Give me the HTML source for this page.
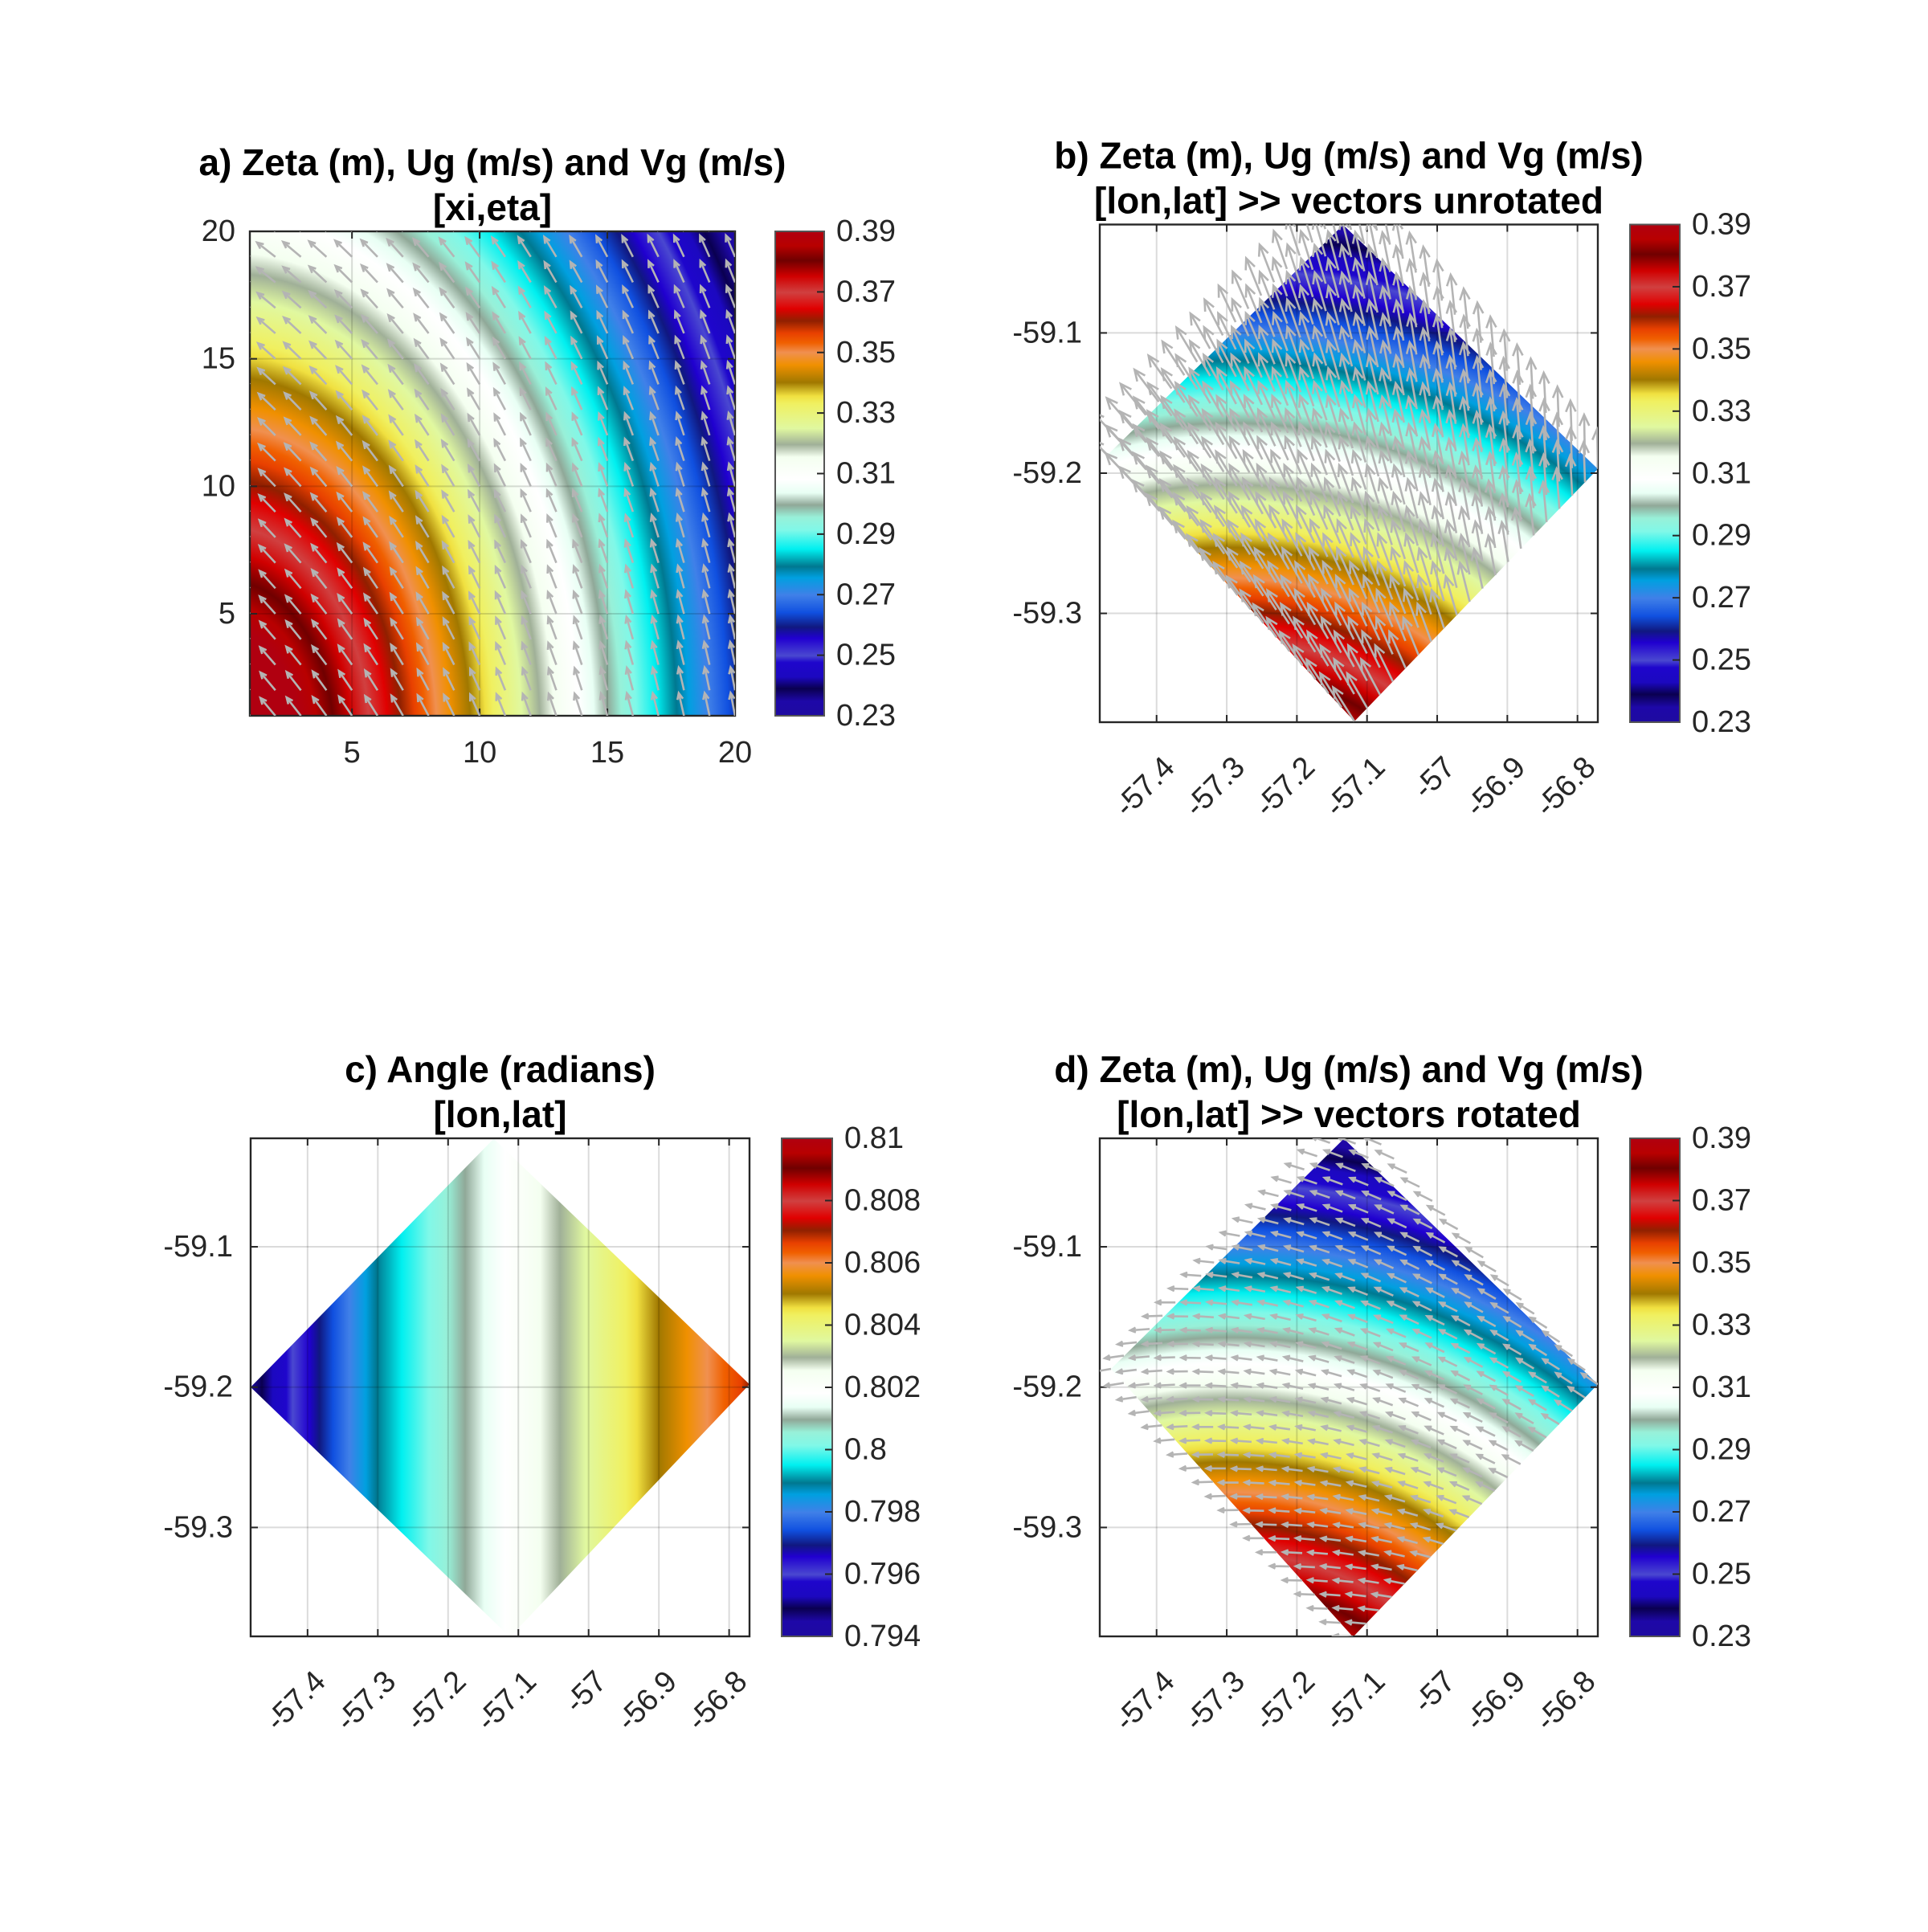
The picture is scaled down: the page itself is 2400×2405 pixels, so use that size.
<!DOCTYPE html>
<html><head><meta charset="utf-8">
<style>
html,body{margin:0;padding:0;background:#fff;}
svg text{font-family:"Liberation Sans",Arial,sans-serif;}
</style></head>
<body>
<svg id="fig" xmlns="http://www.w3.org/2000/svg" width="2400" height="2400" viewBox="0 0 2400 2400">
<rect x="0" y="0" width="2400" height="2400" fill="#fff"/>
<defs id="defs"></defs>
</svg>
<script>
// ---------- data ----------
const cmapPos = [0,0.03,0.056,0.08,0.11,0.124,0.16,0.183,0.213,0.249,0.285,0.308,0.344,0.383,0.41,0.435,0.46,0.488,0.534,0.56,0.593,0.645,0.66,0.688,0.724,0.75,0.77,0.79,0.815,0.84,0.874,0.907,0.94,0.97,1];
const cmapCol = ["#1e0aa0","#1e08a8","#0a0050","#1c08c0","#1e06cc","#4a48d0","#2000d0","#101880","#1050e0","#4080e8","#00a0e0","#007890","#00f0f0","#80f8e8","#98f0d8","#90a898","#e8fff4","#ffffff","#f4fff0","#a0b098","#e0f8a0","#f0f060","#f0e040","#a07800","#f09000","#f09050","#f06000","#e84000","#902000","#e00000","#d04040","#d00000","#700000","#b80000","#b00010"];

const zetaTicks = ["0.39","0.37","0.35","0.33","0.31","0.29","0.27","0.25","0.23"];
const zetaRange = [0.23, 0.39];
const angleTicks = ["0.81","0.808","0.806","0.804","0.802","0.8","0.798","0.796","0.794"];
const angleRange = [0.794, 0.81];

const xiTicks = [5,10,15,20];
const etaTicks = [5,10,15,20];
const xiRange = [1,20];
const lonTicks = [-57.4,-57.3,-57.2,-57.1,-57,-56.9,-56.8];
const lonTickLabels = ["-57.4","-57.3","-57.2","-57.1","-57","-56.9","-56.8"];
const latTicks = [-59.1,-59.2,-59.3];
const latTickLabels = ["-59.1","-59.2","-59.3"];
const lonRange = [-57.481,-56.771];
const latRange = [-59.0227,-59.3776];

// zeta field on xi/eta: elliptical bands (centre, x-compression, value at two radii in xi units)
const zetaCenterA = [0.09, 0.05];
const zetaStretchA = 0.672;
const zetaRadA = [4.35, 36.0];
const zetaValA = [0.39, 0.23];
// zeta on lon/lat (centre lon/lat, radii as fraction of axes width)
const zetaCenterLL = [-57.295, -59.520];
const zetaRadLL = [0.4435, 1.431];
const zetaValLL = [0.39, 0.23];

// diamond outlines (top,right,bottom,left)
const bDiamondLon = [-57.134,-56.771,-57.118,-57.470];
const bDiamondLat = [-59.023,-59.197,-59.377,-59.187];
const cDiamondLon = [-57.135,-56.771,-57.112,-57.481];
const cDiamondLat = [-59.023,-59.198,-59.378,-59.200];
const dDiamondLon = [-57.133,-56.771,-57.120,-57.465];
const dDiamondLat = [-59.023,-59.198,-59.378,-59.187];

// angle field: values at several longitudes
const angleLon = [-57.481,-57.3035,-57.1757,-57.0408,-56.901,-56.831,-56.771];
const angleVal = [0.7945,0.7989,0.80096,0.80296,0.805,0.806,0.8068];

// quiver direction (degrees) by xi column and eta-row adjustment
const arrowAngleCol = [134,132,130,128,126,124,122,120,118,116,114,112,111,110,108,107,106,105,104,103];
const arrowAngleRow = [-2,-2,-1,-1,0,0,1,1,2,2,3,3,4,5,6,7,8,9,10,11];
const gridRotation = 45;

// ---------- layout ----------
const FT=38, FTT=46;
const P = {
  a:{x:311,y:288,w:604,h:603,cb:965,cbw:61},
  b:{x:1369,y:279.5,w:620,h:619.5,cb:2029,cbw:62},
  c:{x:312,y:1417,w:621,h:620,cb:973,cbw:63},
  d:{x:1369,y:1417,w:620,h:620,cb:2029,cbw:62}
};
const NS="http://www.w3.org/2000/svg";
const svg=document.getElementById('fig');
const defs=document.getElementById('defs');
function mk(tag,attrs,parent){const e=document.createElementNS(NS,tag);for(const k in attrs)e.setAttribute(k,attrs[k]);(parent||svg).appendChild(e);return e;}

function stopsForValue(grad, valToOffset, vr){
  const arr=[];
  for(let i=0;i<cmapPos.length;i++){const v=vr[0]+cmapPos[i]*(vr[1]-vr[0]);arr.push([valToOffset(v),cmapCol[i]]);}
  arr.sort((p,q)=>p[0]-q[0]);
  arr.forEach(s=>mk('stop',{offset:Math.max(0,Math.min(1,s[0])),'stop-color':s[1]},grad));
}
function colorbar(p,ticks,name){
  const g=mk('g',{});
  
  
  const id='cb'+name;
  const lg=mk('linearGradient',{id:id,x1:0,y1:1,x2:0,y2:0},defs);
  cmapPos.forEach((f,i)=>mk('stop',{offset:f,'stop-color':cmapCol[i]},lg));
  const r=mk('rect',{x:p.cb,y:p.y,width:p.cbw,height:p.h,fill:'url(#'+id+')',stroke:'#555','stroke-width':2},g);
  
  
  ticks.forEach((t,i)=>{
    const y=p.y+i*p.h/(ticks.length-1);
    if(i>0&&i<ticks.length-1) mk('line',{x1:p.cb+p.cbw-9,x2:p.cb+p.cbw,y1:y,y2:y,stroke:'#262626','stroke-width':2},g);
    const tx=mk('text',{x:p.cb+p.cbw+15,y:y,'font-size':FT,fill:'#262626','dominant-baseline':'central'},g);
    tx.textContent=t;
    
    
  });
}
function title(p,l1,l2,name){
  const cx=p.x+p.w/2;
  const t1=mk('text',{x:cx,y:p.y-70,'font-size':FTT,'font-weight':'bold','text-anchor':'middle',fill:'#000'});
  t1.textContent=l1;
  
  
  const t2=mk('text',{x:cx,y:p.y-14,'font-size':FTT,'font-weight':'bold','text-anchor':'middle',fill:'#000'});
  t2.textContent=l2;
  
  
}
function arrow(g,x,y,ang,L){
  const r=ang*Math.PI/180;const hx=x+L*Math.cos(r),hy=y-L*Math.sin(r);
  const hl=Math.max(7,L*0.3);
  const a1=r+Math.PI-0.42,a2=r+Math.PI+0.42;
  const pth=mk('path',{d:`M${x},${y}L${hx},${hy}M${hx+hl*Math.cos(a1)},${hy-hl*Math.sin(a1)}L${hx},${hy}L${hx+hl*Math.cos(a2)},${hy-hl*Math.sin(a2)}`,stroke:'#b4b4b4','stroke-width':2.6,fill:'none'},g);
  
  
}
function frame(p,name,xt,yt,sx,sy){
  const g=mk('g',{});
  
  
  xt.forEach(v=>{const x=sx(v);
    mk('line',{x1:x,x2:x,y1:p.y,y2:p.y+p.h,stroke:'rgba(0,0,0,0.14)','stroke-width':2},g);
    mk('line',{x1:x,x2:x,y1:p.y,y2:p.y+9,stroke:'#262626','stroke-width':2},g);
    mk('line',{x1:x,x2:x,y1:p.y+p.h,y2:p.y+p.h-9,stroke:'#262626','stroke-width':2},g);});
  yt.forEach(v=>{const y=sy(v);
    mk('line',{x1:p.x,x2:p.x+p.w,y1:y,y2:y,stroke:'rgba(0,0,0,0.14)','stroke-width':2},g);
    mk('line',{x1:p.x,x2:p.x+9,y1:y,y2:y,stroke:'#262626','stroke-width':2},g);
    mk('line',{x1:p.x+p.w,x2:p.x+p.w-9,y1:y,y2:y,stroke:'#262626','stroke-width':2},g);});
  mk('rect',{x:p.x,y:p.y,width:p.w,height:p.h,fill:'none',stroke:'#262626','stroke-width':2.4},g);
  return g;
}
function clip(p,id){const c=mk('clipPath',{id:id},defs);mk('rect',{x:p.x,y:p.y,width:p.w,height:p.h},c);}

// ---------- panel a ----------
(function(){
  const p=P.a;
  const sx=v=>p.x+(v-xiRange[0])/(xiRange[1]-xiRange[0])*p.w;
  const sy=v=>p.y+p.h-(v-xiRange[0])/(xiRange[1]-xiRange[0])*p.h;
  const unit=p.w/(xiRange[1]-xiRange[0]);
  clip(p,'clipA');
  const cx=sx(zetaCenterA[0]),cy=sy(zetaCenterA[1]);
  const r0=zetaRadA[0]*unit,r1=zetaRadA[1]*unit,R=1400;
  const rg=mk('radialGradient',{id:'gA',gradientUnits:'userSpaceOnUse',cx:cx,cy:cy,fx:cx,fy:cy,r:R,
    gradientTransform:`translate(${cx},${cy}) scale(${zetaStretchA},1) translate(${-cx},${-cy})`},defs);
  stopsForValue(rg,v=>(r0+(zetaValA[0]-v)/(zetaValA[0]-zetaValA[1])*(r1-r0))/R,zetaRange);
  const f=mk('rect',{x:p.x,y:p.y,width:p.w,height:p.h,fill:'url(#gA)'});
  
  
  frame(p,'panel-a',xiTicks,etaTicks,sx,sy);
  const g=mk('g',{'clip-path':'url(#clipA)'});
  
  
  for(let i=0;i<20;i++)for(let j=0;j<20;j++) arrow(g,sx(i+1),sy(j+1),arrowAngleCol[i]+arrowAngleRow[j],29);
  xiTicks.forEach(v=>{const t=mk('text',{x:sx(v),y:p.y+p.h+58,'font-size':FT,'text-anchor':'middle',fill:'#262626'});t.textContent=v;
    
    });
  etaTicks.forEach(v=>{const t=mk('text',{x:p.x-18,y:sy(v),'font-size':FT,'text-anchor':'end','dominant-baseline':'central',fill:'#262626'});t.textContent=v;
    
    });
  title(p,'a) Zeta (m), Ug (m/s) and Vg (m/s)','[xi,eta]','panel-a');
  colorbar(p,zetaTicks,'colorbar-a');
})();

// ---------- lon/lat panels ----------
function llPanel(key,dLon,dLat,mode,t1,t2){
  const p=P[key];
  const sx=v=>p.x+(v-lonRange[0])/(lonRange[1]-lonRange[0])*p.w;
  const sy=v=>p.y+(v-latRange[0])/(latRange[1]-latRange[0])*p.h;
  clip(p,'clip'+key);
  const pts=dLon.map((l,i)=>sx(l)+','+sy(dLat[i])).join(' ');
  if(mode==='angle'){
    const x0=sx(angleLon[0]),x1=sx(angleLon[angleLon.length-1]);
    const lg=mk('linearGradient',{id:'g'+key,gradientUnits:'userSpaceOnUse',x1:x0,y1:0,x2:x1,y2:0},defs);
    const lonToOff=l=>(sx(l)-x0)/(x1-x0);
    stopsForValue(lg,v=>{
      const n=angleVal.length;
      if(v<=angleVal[0]) return lonToOff(angleLon[0])-0.001;
      if(v>=angleVal[n-1]) return 1.001;
      for(let k=0;k<n-1;k++) if(v<=angleVal[k+1]){const t=(v-angleVal[k])/(angleVal[k+1]-angleVal[k]);return lonToOff(angleLon[k]+t*(angleLon[k+1]-angleLon[k]));}
      return 1;
    },angleRange);
  } else {
    const cx=sx(zetaCenterLL[0]),cy=sy(zetaCenterLL[1]);
    const r0=zetaRadLL[0]*p.w,r1=zetaRadLL[1]*p.w,R=1400;
    const rg=mk('radialGradient',{id:'g'+key,gradientUnits:'userSpaceOnUse',cx:cx,cy:cy,fx:cx,fy:cy,r:R},defs);
    stopsForValue(rg,v=>(r0+(zetaValLL[0]-v)/(zetaValLL[0]-zetaValLL[1])*(r1-r0))/R,zetaRange);
  }
  const poly=mk('polygon',{points:pts,fill:'url(#g'+key+')'});
  
  
  frame(p,'panel-'+key,lonTicks,latTicks,sx,sy);
  if(mode!=='angle'){
    const g=mk('g',{'clip-path':'url(#clip'+key+')'});
    
    
    const B=[sx(dLon[2]),sy(dLat[2])],Rr=[sx(dLon[1]),sy(dLat[1])],L=[sx(dLon[3]),sy(dLat[3])];
    for(let i=0;i<20;i++)for(let j=0;j<20;j++){
      const x=B[0]+i/19*(Rr[0]-B[0])+j/19*(L[0]-B[0]);
      const y=B[1]+i/19*(Rr[1]-B[1])+j/19*(L[1]-B[1]);
      const ang=arrowAngleCol[i]+arrowAngleRow[j]+(mode==='rot'?gridRotation:-10);
      arrow(g,x,y,ang,mode==='rot'?24:50);
    }
  }
  lonTicks.forEach((v,i)=>{const t=mk('text',{x:0,y:0,'font-size':FT,'text-anchor':'end','dominant-baseline':'central',fill:'#262626',transform:`translate(${sx(v)+16},${p.y+p.h+50}) rotate(-45)`});t.textContent=lonTickLabels[i];
    
    });
  latTicks.forEach((v,i)=>{const t=mk('text',{x:p.x-22,y:sy(v),'font-size':FT,'text-anchor':'end','dominant-baseline':'central',fill:'#262626'});t.textContent=latTickLabels[i];
    
    });
  title(p,t1,t2,'panel-'+key);
  colorbar(p,mode==='angle'?angleTicks:zetaTicks,'colorbar-'+key);
}
llPanel('b',bDiamondLon,bDiamondLat,'unrot','b) Zeta (m), Ug (m/s) and Vg (m/s)','[lon,lat] >> vectors unrotated');
llPanel('c',cDiamondLon,cDiamondLat,'angle','c) Angle (radians)','[lon,lat]');
llPanel('d',dDiamondLon,dDiamondLat,'rot','d) Zeta (m), Ug (m/s) and Vg (m/s)','[lon,lat] >> vectors rotated');
</script>
</body></html>
